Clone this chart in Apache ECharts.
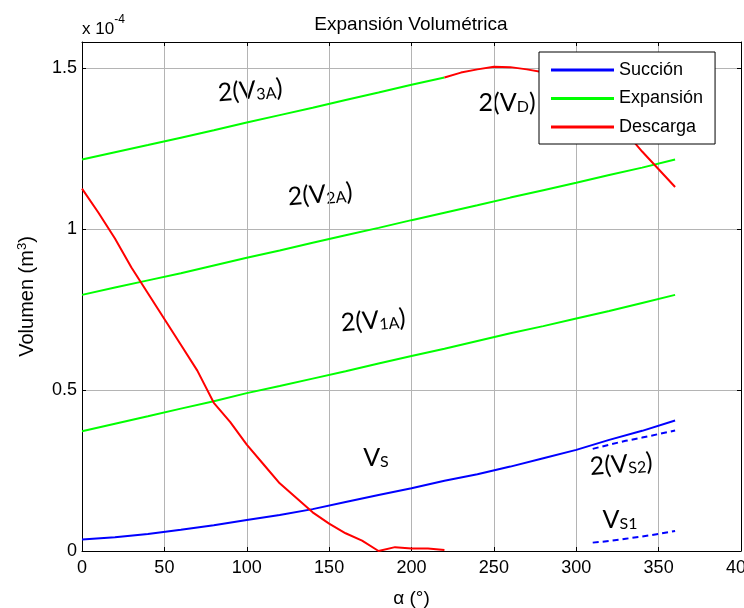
<!DOCTYPE html>
<html>
<head>
<meta charset="utf-8">
<script src="https://cdn.jsdelivr.net/npm/echarts@6/dist/echarts.min.js"></script>
<style>
  html, body { margin: 0; padding: 0; background: #fff; }
  #main { width: 744px; height: 608px; }
</style>
</head>
<body>
<div id="main"></div>
<script>
// valores en unidades de 1e-4 m^3
var alphaFull = [0, 20, 40, 60, 80, 100, 120, 140, 160, 180, 200, 220, 240, 260, 280, 300, 320, 340, 360];
var succion = [0.036, 0.043, 0.053, 0.066, 0.080, 0.096, 0.112, 0.130, 0.152, 0.174, 0.195, 0.218, 0.238, 0.262, 0.288, 0.314, 0.345, 0.373, 0.405];
var exp1A = [0.372, 0.395, 0.418, 0.442, 0.465, 0.490, 0.512, 0.535, 0.558, 0.582, 0.605, 0.628, 0.652, 0.676, 0.698, 0.722, 0.745, 0.770, 0.795];
var exp2A = [0.795, 0.818, 0.840, 0.862, 0.886, 0.910, 0.933, 0.957, 0.980, 1.003, 1.027, 1.050, 1.073, 1.097, 1.120, 1.143, 1.167, 1.190, 1.215];
var alpha3A = [0, 20, 40, 60, 80, 100, 120, 140, 160, 180, 200, 220];
var exp3A = [1.215, 1.238, 1.260, 1.283, 1.306, 1.330, 1.353, 1.376, 1.400, 1.423, 1.447, 1.470];
var alphaDesc1 = [0, 10, 20, 30, 40, 50, 60, 70, 80, 90, 100, 110, 120, 130, 140, 150, 160, 170, 180, 190, 200, 210, 220];
var descarga1 = [1.125, 1.05, 0.97, 0.88, 0.80, 0.72, 0.64, 0.56, 0.46, 0.40, 0.33, 0.27, 0.21, 0.165, 0.12, 0.085, 0.055, 0.032, 0.0, 0.012, 0.008, 0.008, 0.003];
var alphaDesc2 = [220, 230, 240, 250, 260, 270, 280, 290, 300, 310, 320, 330, 340, 350, 360];
var descarga2 = [1.47, 1.485, 1.495, 1.503, 1.502, 1.495, 1.486, 1.47, 1.445, 1.41, 1.36, 1.30, 1.24, 1.185, 1.13];
var alphaVs = [310, 320, 330, 340, 350, 360];
var vs1 = [0.026, 0.031, 0.038, 0.045, 0.053, 0.062];
var vs2 = [0.317, 0.330, 0.342, 0.352, 0.363, 0.374];
var legendNames = ['Succión', 'Expansión', 'Descarga'];

function pares(xs, ys) {
  var out = [];
  for (var i = 0; i < xs.length; i++) out.push([xs[i], ys[i]]);
  return out;
}

var chart = echarts.init(document.getElementById('main'));
var FONT = 'Liberation Sans';
var LBL = 'Lato';

function linea(name, xs, ys, color, dashed) {
  return {
    name: name,
    type: 'line',
    data: pares(xs, ys),
    showSymbol: false,
    symbol: 'none',
    lineStyle: { color: color, width: 2, type: dashed ? [6, 4] : 'solid' },
    itemStyle: { color: color },
    silent: true,
    animation: false
  };
}

function etiqueta(x, y, main, sub, rot) {
  return {
    type: 'text',
    x: x, y: y,
    rotation: rot || 0,
    style: {
      text: '{a|' + main + '}{b|' + sub + '}' + (main.indexOf('(') >= 0 ? '{a|)}' : ''),
      rich: {
        a: { fontSize: 25, fontFamily: LBL, fill: '#000', verticalAlign: 'bottom', lineHeight: 30 },
        b: { fontSize: 16, fontFamily: LBL, fill: '#000', verticalAlign: 'bottom', lineHeight: 12 }
      },
      align: 'center',
      verticalAlign: 'middle'
    }
  };
}

var option = {
  animation: false,
  backgroundColor: '#fff',
  title: {
    text: 'Expansión Volumétrica',
    left: 406, top: 10, textAlign: 'center',
    textStyle: { fontFamily: FONT, fontSize: 19, fontWeight: 'normal', color: '#000' }
  },
  grid: { left: 82, right: 3, top: 42, bottom: 57, outerBoundsMode: 'none', containLabel: false },
  legend: {
    data: legendNames.map(function (n) { return { name: n, icon: 'rect' }; }),
    orient: 'vertical',
    left: 539, top: 52,
    itemWidth: 63, itemHeight: 3, itemGap: 8.5,
    padding: [8, 12, 7, 12],
    backgroundColor: '#fff',
    borderColor: '#000', borderWidth: 1, borderRadius: 0,
    textStyle: { fontFamily: FONT, fontSize: 18, color: '#000', lineHeight: 20 }
  },
  xAxis: [{
    type: 'value', min: 0, max: 400, interval: 50,
    name: 'α (°)', nameLocation: 'middle', nameGap: 38,
    nameTextStyle: { fontFamily: FONT, fontSize: 19, color: '#000' },
    axisLine: { onZero: false, lineStyle: { color: '#000', width: 1 } },
    axisTick: { inside: true, length: 4, lineStyle: { color: '#000' } },
    axisLabel: { fontFamily: FONT, fontSize: 18, color: '#000', margin: 8 },
    splitLine: { show: true, lineStyle: { color: '#b4b4b4', width: 1 } }
  }, {
    type: 'value', min: 0, max: 400, interval: 50, position: 'top',
    axisLine: { onZero: false, lineStyle: { color: '#000', width: 1 } },
    axisTick: { inside: true, length: 4, lineStyle: { color: '#000' } },
    axisLabel: { show: false },
    splitLine: { show: false }
  }],
  yAxis: [{
    type: 'value', min: 0, max: 1.58, interval: 0.5,
    name: 'Volumen (m{sup|3})', nameLocation: 'middle', nameGap: 44, nameRotate: 90,
    nameTextStyle: {
      fontFamily: FONT, fontSize: 20, color: '#000',
      rich: { sup: { fontFamily: FONT, fontSize: 13, color: '#000', verticalAlign: 'top', padding: [0, 0, 9, 0] } }
    },
    axisLine: { onZero: false, lineStyle: { color: '#000', width: 1 } },
    axisTick: { inside: true, length: 4, lineStyle: { color: '#000' } },
    axisLabel: {
      fontFamily: FONT, fontSize: 18, color: '#000', margin: 5,
      formatter: function (v) {
        if (Math.abs(v * 2 - Math.round(v * 2)) > 1e-6) return '';
        return String(Math.round(v * 10) / 10);
      }
    },
    splitLine: { show: true, lineStyle: { color: '#b4b4b4', width: 1 } }
  }, {
    type: 'value', min: 0, max: 1.58, interval: 0.5, position: 'right',
    axisLine: { onZero: false, lineStyle: { color: '#000', width: 1 } },
    axisTick: { inside: true, length: 4, lineStyle: { color: '#000' } },
    axisLabel: { show: false },
    splitLine: { show: false }
  }],
  series: [
    linea('Succión', alphaFull, succion, '#0000ff', false),
    linea('Vs2', alphaVs, vs2, '#0000ff', true),
    linea('Vs1', alphaVs, vs1, '#0000ff', true),
    linea('Expansión', alphaFull, exp1A, '#00ff00', false),
    linea('Expansión', alphaFull, exp2A, '#00ff00', false),
    linea('Expansión', alpha3A, exp3A, '#00ff00', false),
    linea('Descarga', alphaDesc1, descarga1, '#ff0000', false),
    linea('Descarga', alphaDesc2, descarga2, '#ff0000', false)
  ],
  graphic: [
    {
      type: 'text', left: 82, top: 14,
      style: {
        text: '{a|x 10}{b|-4}',
        rich: {
          a: { fontFamily: FONT, fontSize: 17, fill: '#000', verticalAlign: 'bottom', lineHeight: 24 },
          b: { fontFamily: FONT, fontSize: 12, fill: '#000', verticalAlign: 'top', lineHeight: 24 }
        }
      }
    },
    etiqueta(250, 88, '2(V', '3A', 0.08),
    etiqueta(507, 100, '2(V', 'D', 0),
    etiqueta(320, 192, '2(V', '2A', 0.08),
    etiqueta(373, 318, '2(V', '1A', 0.08),
    etiqueta(376, 455, 'V', 'S', 0),
    etiqueta(621, 462, '2(V', 'S2', 0.08),
    etiqueta(620, 517, 'V', 'S1', 0)
  ]
};
chart.setOption(option);
</script>
</body>
</html>
